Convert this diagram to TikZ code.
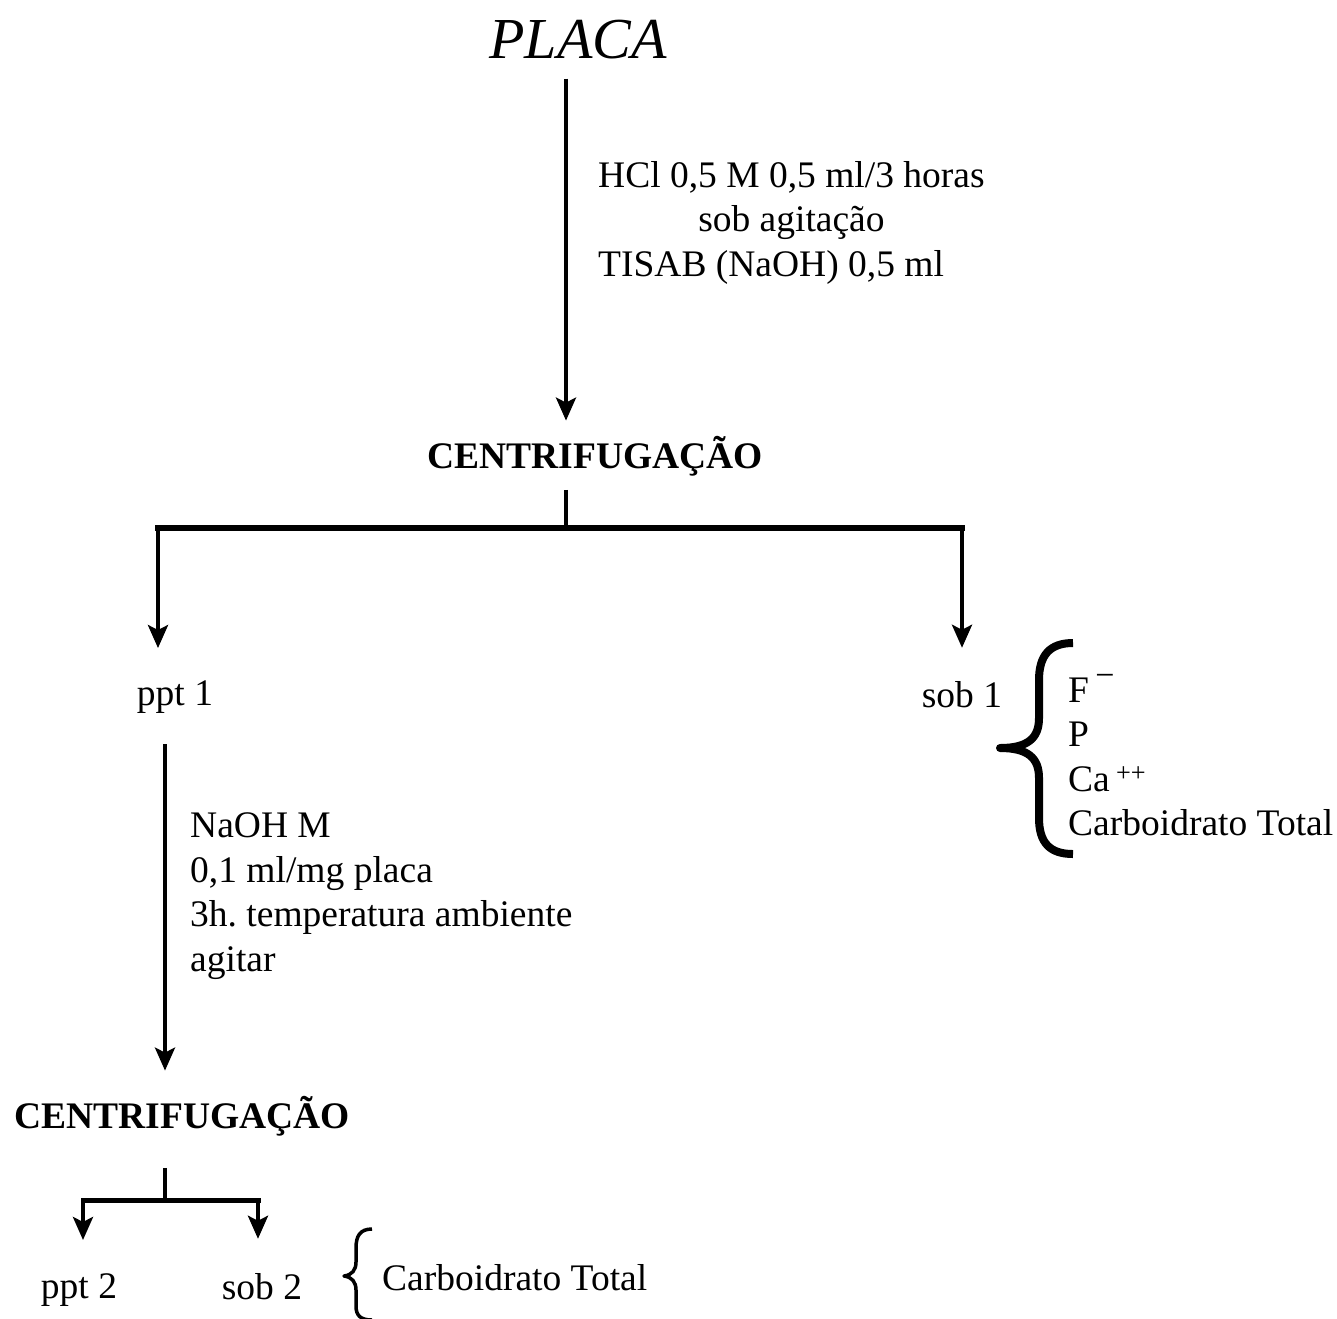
\documentclass[tikz,border=0pt]{standalone}
\usepackage{fontspec}
\setmainfont{Liberation Serif}
\usetikzlibrary{arrows.meta}
\frenchspacing

\begin{document}
\begin{tikzpicture}[x=1pt, y=-1pt, font=\fontsize{37.5}{44.5}\selectfont, line join=round,
		>={Stealth[length=23pt,width=20pt,inset=5pt]},
		txt/.style={inner sep=0pt},
		titulo/.style={txt, font=\fontsize{37.5}{44.5}\selectfont\bfseries, anchor=base},
		haste/.style={line width=4pt},
		barra/.style={line width=6pt, line cap=rect},
		chave/.style={line width=8pt}]
	\useasboundingbox (0,0) rectangle (1337,1318);
	% nos
	\node[txt, font=\fontsize{58}{60}\selectfont\itshape, anchor=base] (placa) at (578,58) {PLACA};
	\node[txt, anchor=west] (hcl) at (598,223) {\begin{tabular}{@{}l@{}}HCl 0,5 M 0,5 ml/3 horas\\ \multicolumn{1}{@{}c@{}}{sob agitação}\\ TISAB (NaOH) 0,5 ml\end{tabular}};
	\node[titulo] (cent1) at (595,468) {CENTRIFUGAÇÃO};
	\node[txt, anchor=base] (ppt1) at (175,705) {ppt 1};
	\node[txt, anchor=base] (sob1) at (962,707) {sob 1};
	\node[txt, anchor=west, align=left] (lista1) at (1068,755) {F\,\raisebox{0.42em}{\fontsize{34}{34}\selectfont −}\\ P\\ Ca\,\textsuperscript{++}\\ Carboidrato Total};
	\node[txt, anchor=west, align=left] (naoh) at (190,896) {NaOH M\\ 0,1 ml/mg placa\\ 3h. temperatura ambiente\\ agitar};
	\node[titulo] (cent2) at (182,1128) {CENTRIFUGAÇÃO};
	\node[txt, anchor=base] (ppt2) at (79,1298) {ppt 2};
	\node[txt, anchor=base] (sob2) at (262,1299) {sob 2};
	\node[txt, anchor=west] (lista2) at (382,1278) {Carboidrato Total};
	% ramificacoes
	\coordinate (j1) at (566,528);
	\coordinate (l1) at (158,528);
	\coordinate (r1) at (962,528);
	\coordinate (j2) at (165,1200);
	\coordinate (l2) at (83,1200);
	\coordinate (r2) at (258,1200);
	\draw[haste,->,shorten <=20pt,shorten >=15pt] (placa.south -| j1) -- (cent1.north -| j1);
	\draw[haste,shorten <=14pt] (cent1.south -| j1) -- (j1);
	\draw[barra] (l1) -- (r1);
	\draw[haste,->,shorten >=32pt] (l1) -- (l1 |- ppt1.north);
	\draw[haste,->,shorten >=33pt] (r1) -- (sob1.north);
	\draw[haste,->,shorten <=31pt,shorten >=25pt] (ppt1.south -| j2) -- (cent2.north -| j2);
	\draw[haste,shorten <=32pt] (cent2.south -| j2) -- (j2);
	\draw[barra,line width=5pt] (l2) -- (r2);
	\draw[haste,->,shorten >=33pt] (l2) -- (l2 |- ppt2.north);
	\draw[haste,->,shorten >=34pt] (r2) -- (r2 |- sob2.north);
	% chaves
	\draw[chave] (1073,643) .. controls (1050,643) and (1039,655) .. (1039,680) -- (1039,718)
		.. controls (1039,738) and (1028,748) .. (1000,748)
		.. controls (1028,748) and (1039,758) .. (1039,778) -- (1039,818)
		.. controls (1039,843) and (1050,854) .. (1073,854);
	\draw[chave,line width=3.5pt] (372,1229) .. controls (360,1229) and (356,1236) .. (356,1248) -- (356,1262)
		.. controls (356,1270) and (352,1275) .. (344,1276)
		.. controls (352,1277) and (356,1282) .. (356,1290) -- (356,1306)
		.. controls (356,1315) and (360,1320) .. (372,1320);
\end{tikzpicture}
\end{document}
